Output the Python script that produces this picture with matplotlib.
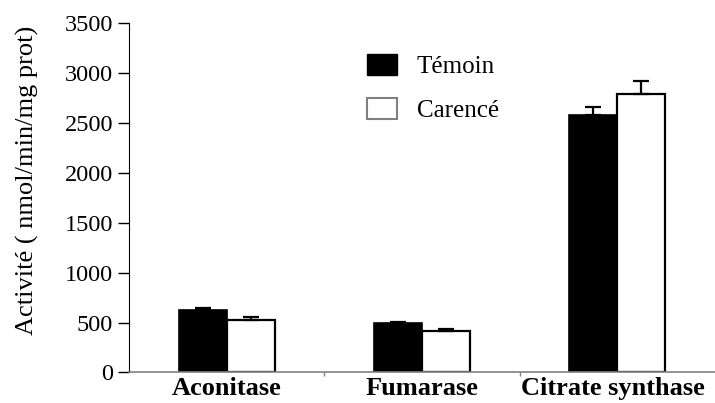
import numpy as np
import matplotlib.pyplot as plt
from matplotlib.patches import Patch
from matplotlib.transforms import ScaledTranslation

# enzyme activities (nmol/min/mg prot), mean and upper error
enzymes = ["Aconitase", "Fumarase", "Citrate synthase"]
temoin = [630, 495, 2580]
temoin_err = [15, 12, 80]
carence = [525, 420, 2785]
carence_err = [33, 15, 133]
yticks = [0, 500, 1000, 1500, 2000, 2500, 3000, 3500]

plt.rcParams["font.family"] = ["Liberation Serif", "DejaVu Serif"]

fig = plt.figure(figsize=(7.15, 4.03), dpi=100)
ax = fig.add_axes([0.1804, 0.0757, 0.8196, 0.868])

x = np.arange(len(enzymes))
w = 0.245

ax.bar(x - w / 2, temoin, width=w, color="black", edgecolor="black", linewidth=1.2)
ax.bar(x + w / 2, carence, width=w, color="white", edgecolor="black", linewidth=1.6)

ax.errorbar(x - w / 2, temoin, yerr=[np.zeros(3), temoin_err], fmt="none",
            ecolor="black", elinewidth=1.6, capsize=6, capthick=1.6)
ax.errorbar(x + w / 2, carence, yerr=[np.zeros(3), carence_err], fmt="none",
            ecolor="black", elinewidth=1.6, capsize=6, capthick=1.6)

ax.set_xlim(-0.5, 2.5)
ax.set_ylim(0, 3500)
ax.set_yticks(yticks)
ax.tick_params(axis="y", direction="out", length=8, width=1, labelsize=17.5, pad=3.5)

ax.set_xticks(x)
ax.set_xticklabels(enzymes, fontsize=19, fontweight="bold")
ax.tick_params(axis="x", length=0, pad=3.5)
ax.set_xticks([0.5, 1.5], minor=True)
ax.tick_params(axis="x", which="minor", direction="out", length=3, color="#808080", width=1)

# last label nudged left so it stays inside the figure
lbl = ax.get_xticklabels()[2]
lbl.set_transform(lbl.get_transform() + ScaledTranslation(-4 / 100, 0, fig.dpi_scale_trans))

ax.set_ylabel("Activité ( nmol/min/mg prot)", fontsize=19, labelpad=18.5)
ax.yaxis.label.set_y(0.55)

for s in ["top", "right"]:
    ax.spines[s].set_visible(False)
ax.spines["left"].set_color("black")
ax.spines["bottom"].set_color("#808080")
ax.spines["bottom"].set_linewidth(1.2)

handles = [Patch(facecolor="black", edgecolor="black"),
           Patch(facecolor="white", edgecolor="#808080", linewidth=1.5)]
ax.legend(handles, ["Témoin", "Carencé"], loc="upper left",
          bbox_to_anchor=(0.513, 0.866), bbox_transform=fig.transFigure,
          frameon=False, fontsize=18, handlelength=1.2, handleheight=0.9,
          handletextpad=0.8, labelspacing=0.79, borderpad=0, borderaxespad=0)

fig.savefig("out.png", dpi=100)
